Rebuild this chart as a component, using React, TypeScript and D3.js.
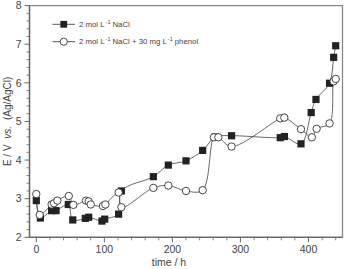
import React from "react";
import * as d3 from "d3";

const nacl_t = [0, 6, 22.5, 29, 47, 53.6, 72, 77, 96.5, 100.5, 121, 125, 172, 194, 220, 244.5, 263, 287, 358.5, 364.7, 389, 404, 411, 431, 437, 440];
const nacl_E = [2.95, 2.5, 2.69, 2.69, 2.85, 2.45, 2.49, 2.52, 2.42, 2.47, 2.6, 3.2, 3.57, 3.87, 3.98, 4.25, 4.6, 4.63, 4.58, 4.61, 4.42, 5.23, 5.57, 5.99, 6.66, 6.96];

const phenol_t = [0, 5, 22.5, 26, 31, 47.7, 54.5, 73, 77, 80, 98, 101.5, 121, 125, 172, 194, 220, 244.5, 261, 267.5, 287, 358.5, 364.5, 389, 405, 412, 431, 437, 440];
const phenol_E = [3.12, 2.58, 2.85, 2.88, 2.95, 3.07, 2.84, 2.95, 2.93, 2.85, 2.81, 2.85, 3.16, 2.78, 3.28, 3.34, 3.2, 3.22, 4.59, 4.59, 4.35, 5.08, 5.1, 4.8, 4.59, 4.81, 4.95, 6.04, 6.1];

const xTicks = [0, 100, 200, 300, 400];
const yTicks = [2, 3, 4, 5, 6, 7, 8];
const legendLabels = ["2 mol L", "2 mol L"];

export default function App() {
  const W = 345, H = 269;
  const x = d3.scaleLinear().domain([-10, 450]).range([29.5, 342.5]);
  const y = d3.scaleLinear().domain([2, 8]).range([237.3, 5.6]);
  const line = d3.line<[number, number]>().x(d => x(d[0])).y(d => y(d[1])).curve(d3.curveCatmullRom.alpha(0.5));
  const nacl: [number, number][] = nacl_t.map((t, i) => [t, nacl_E[i]]);
  const phen: [number, number][] = phenol_t.map((t, i) => [t, phenol_E[i]]);
  const xMinor = d3.range(-0, 451, 20).filter(v => !xTicks.includes(v));
  const yMinor = d3.range(2, 8.001, 0.2).filter(v => Math.abs(v - Math.round(v)) > 0.01);
  const axisColor = "#666";
  const textColor = "#444";
  const font = "Arial, 'Liberation Sans', sans-serif";
  const sq = 7.2;
  const r = 3.7;
  return (
    <svg width={W} height={H} style={{ position: "absolute", left: 0, top: 0 }} fontFamily={font}>
      <rect x={0} y={0} width={W} height={H} fill="#fff" />
      <rect x={x.range()[0]} y={y.range()[1]} width={x.range()[1] - x.range()[0]} height={y.range()[0] - y.range()[1]} fill="none" stroke="#888" strokeWidth={1.3} />
      <line x1={x.range()[0]} x2={x.range()[0]} y1={y.range()[1]} y2={y.range()[0]} stroke={axisColor} strokeWidth={1.3} />
      <line x1={x.range()[0]} x2={x.range()[1]} y1={y.range()[0]} y2={y.range()[0]} stroke={axisColor} strokeWidth={1.3} />
      {yTicks.map(v => (
        <g key={"y" + v}>
          <line x1={x.range()[0] - 5} x2={x.range()[0]} y1={y(v)} y2={y(v)} stroke={axisColor} strokeWidth={1} />
          <text x={x.range()[0] - 8} y={y(v)} dy="0.35em" textAnchor="end" fontSize={10.5} fill={textColor}>{v}</text>
        </g>
      ))}
      {yMinor.map(v => (
        <line key={"ym" + v} x1={x.range()[0] - 3} x2={x.range()[0]} y1={y(v)} y2={y(v)} stroke={axisColor} strokeWidth={0.8} />
      ))}
      {xTicks.map(v => (
        <g key={"x" + v}>
          <line x1={x(v)} x2={x(v)} y1={y.range()[0]} y2={y.range()[0] + 5} stroke={axisColor} strokeWidth={1} />
          <text x={x(v)} y={y.range()[0] + 16} textAnchor="middle" fontSize={10.5} fill={textColor}>{v}</text>
        </g>
      ))}
      {xMinor.map(v => (
        <line key={"xm" + v} x1={x(v)} x2={x(v)} y1={y.range()[0]} y2={y.range()[0] + 3} stroke={axisColor} strokeWidth={0.8} />
      ))}
      <text x={169} y={265.5} textAnchor="middle" fontSize={10.5} fill={textColor}>time / h</text>
      <text transform={`translate(11,${(y.range()[0] + y.range()[1]) / 2}) rotate(-90)`} textAnchor="middle" fontSize={10} fill={textColor}>
        E / V <tspan fontStyle="italic" dx="3">vs.</tspan><tspan dx="3"> (Ag/AgCl)</tspan>
      </text>
      <path d={line(nacl) || ""} fill="none" stroke="#555" strokeWidth={0.9} />
      <path d={line(phen) || ""} fill="none" stroke="#555" strokeWidth={0.9} />
      {nacl.map((d, i) => (
        <rect key={"s" + i} x={x(d[0]) - sq / 2} y={y(d[1]) - sq / 2} width={sq} height={sq} fill="#222" />
      ))}
      {phen.map((d, i) => (
        <circle key={"c" + i} cx={x(d[0])} cy={y(d[1])} r={r} fill="#fff" stroke="#333" strokeWidth={0.9} />
      ))}
      <g fontSize={7.8} fill={textColor}>
        <line x1={52.5} x2={75} y1={24.3} y2={24.3} stroke="#444" strokeWidth={0.9} />
        <rect x={63.75 - 3.4} y={24.3 - 3.4} width={6.8} height={6.8} fill="#222" />
        <text x={79} y={24.3} dy="0.35em">{legendLabels[0]}<tspan dx="1" dy="-3" fontSize={5.5}>-1</tspan><tspan dx="2" dy="3">NaCl</tspan></text>
        <line x1={52.5} x2={75} y1={41.7} y2={41.7} stroke="#444" strokeWidth={0.9} />
        <circle cx={63.75} cy={41.7} r={3.6} fill="#fff" stroke="#333" strokeWidth={0.9} />
        <text x={79} y={41.7} dy="0.35em">{legendLabels[1]}<tspan dx="1" dy="-3" fontSize={5.5}>-1</tspan><tspan dx="2" dy="3">NaCl + 30 mg L</tspan><tspan dx="1" dy="-3" fontSize={5.5}>-1</tspan><tspan dx="2" dy="3">phenol</tspan></text>
      </g>
    </svg>
  );
}
